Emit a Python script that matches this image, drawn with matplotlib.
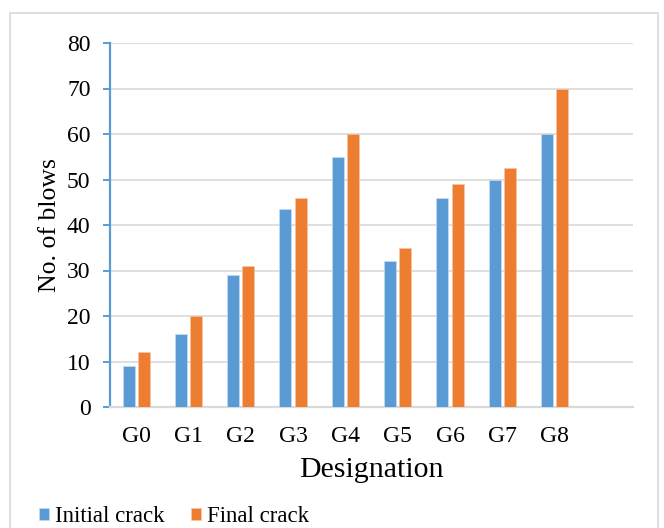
import numpy as np
import matplotlib.pyplot as plt
from matplotlib.patches import Rectangle

plt.rcParams['font.family'] = ['Liberation Serif', 'DejaVu Serif']

designations = ['G0', 'G1', 'G2', 'G3', 'G4', 'G5', 'G6', 'G7', 'G8']
initial_crack = [9, 16, 29, 43.5, 55, 32, 46, 50, 60]
final_crack = [12, 20, 31, 46, 60, 35, 49, 52.5, 70]

blue = '#5B9BD5'
orange = '#ED7D31'
grid_grey = '#D9D9D9'


def main():
    fig = plt.figure(figsize=(6.64, 5.28), dpi=100)
    ax = fig.add_axes([110 / 664, 1 - 407 / 528, 523 / 664, 364 / 528])

    x = np.arange(len(designations))
    w = 0.23
    ax.bar(x - 0.145, initial_crack, w, color=blue, label='Initial crack',
           edgecolor='#cfe0f1', linewidth=0.4, zorder=3)
    ax.bar(x + 0.145, final_crack, w, color=orange, label='Final crack',
           edgecolor='#f7c9a9', linewidth=0.4, zorder=3)

    # one empty category slot on the right, like the spreadsheet chart
    ax.set_xlim(-0.5, 9.5)
    ax.set_ylim(0, 80)
    ax.set_yticks(range(0, 81, 10))
    ax.set_xticks(x)
    ax.set_xticklabels(designations)

    ax.grid(axis='y', color=grid_grey, linewidth=1.2, zorder=0)
    ax.set_axisbelow(True)
    for s in ['top', 'right']:
        ax.spines[s].set_visible(False)
    ax.spines['left'].set_color(blue)
    ax.spines['left'].set_linewidth(1.6)
    ax.spines['bottom'].set_color(grid_grey)
    ax.spines['bottom'].set_linewidth(1.6)

    ax.tick_params(axis='y', colors=blue, labelcolor='black', length=5,
                   width=1.4, labelsize=17, pad=9)
    ax.tick_params(axis='x', length=0, labelsize=17, pad=14)

    ax.set_xlabel('Designation', fontsize=21.5, labelpad=7)
    ax.set_ylabel('No. of blows', fontsize=18.5, labelpad=4)

    fig.legend(loc='center left', bbox_to_anchor=(39 / 664, 1 - 517 / 528),
               ncol=2, frameon=False, fontsize=16.5, handlelength=0.45,
               handleheight=0.45, handletextpad=0.25, columnspacing=1.15,
               borderpad=0, borderaxespad=0)

    # light frame around the whole chart area
    fig.patches.append(Rectangle((10 / 664, -0.05), 648 / 664, 1 - 13 / 528 + 0.05,
                                 transform=fig.transFigure, fill=False,
                                 edgecolor=grid_grey, linewidth=1.2))

    fig.savefig('out.png', dpi=100)


if __name__ == "__main__":
    main()
